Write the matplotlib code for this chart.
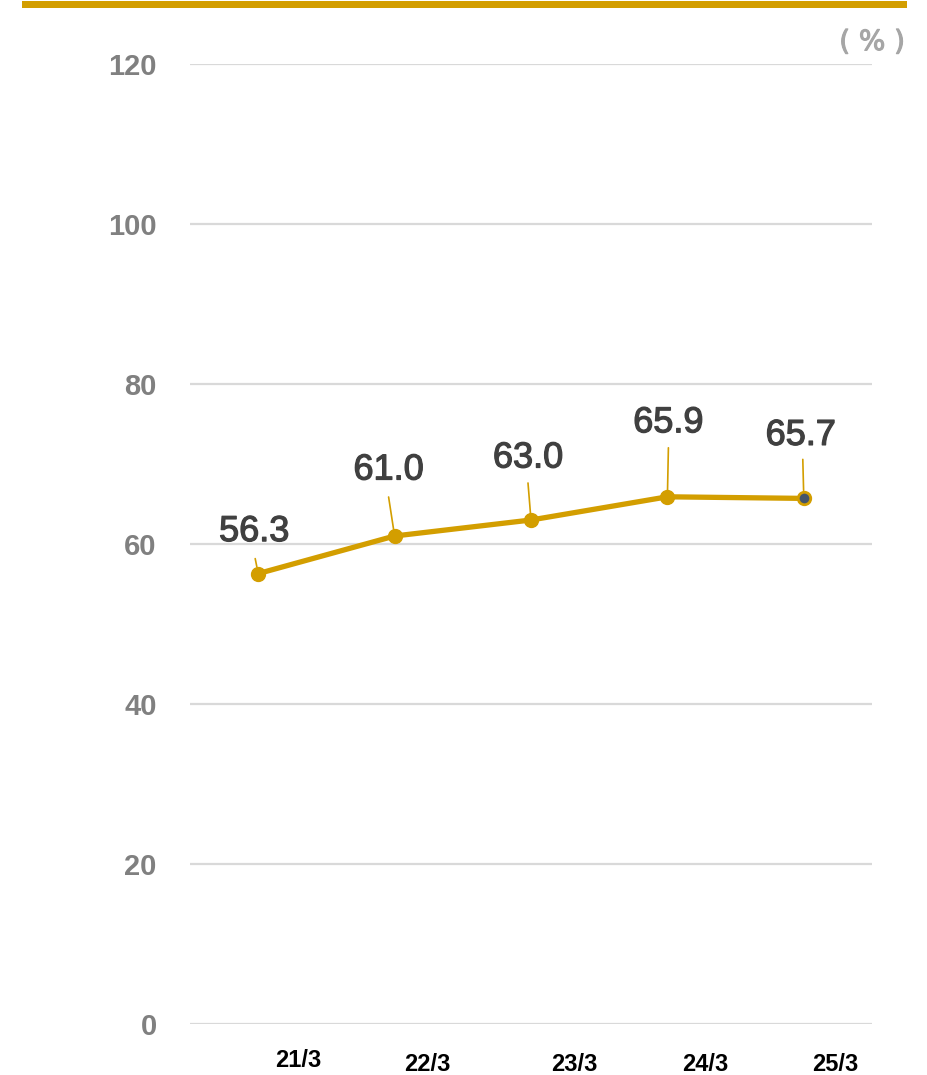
import numpy as np
import matplotlib
matplotlib.use("Agg")
import matplotlib.pyplot as plt
import matplotlib.patheffects as pe
from matplotlib.patches import Rectangle

# data
periods = ["21/3", "22/3", "23/3", "24/3", "25/3"]
values = [56.3, 61.0, 63.0, 65.9, 65.7]
y_ticks = [0, 20, 40, 60, 80, 100, 120]

gold = "#D39E00"
grid_c = "#D9D9D9"

fig = plt.figure(figsize=(9.28, 10.75), dpi=100)
ax = fig.add_axes([190/928, 1 - 1024/1075, 682/928, 960/1075])

x = np.arange(len(values))
ax.plot(x, values, color=gold, lw=3.8, solid_capstyle="round", zorder=3)
ax.plot(x[:-1], values[:-1], "o", ms=10, color=gold, zorder=4)
ax.plot(x[-1], values[-1], "o", ms=9, mfc="#44546A", mec=gold, mew=2, zorder=4)

# labels with leader lines (offsets in pixels: label centre, leader top, leader bottom)
lab_off = [(-4, 42), (-6, 66), (-3, 62), (1, 74), (-3, 63)]
lead_top = [(-3, 15), (-6, 39), (-3, 37), (1, 49), (-1, 39)]
lead_bot = [(-1, 7), (-1, 3), (-1, 5), (1, 5), (0, 8)]
thick = [pe.withStroke(linewidth=0.9, foreground="#404040")]
for i, v in enumerate(values):
    ax.annotate(f"{v:.1f}", (x[i], v), xytext=(lab_off[i][0]*0.72, lab_off[i][1]*0.72),
                textcoords="offset points", ha="center", va="center",
                fontsize=26, color="#404040", path_effects=thick,
                family=["Liberation Sans", "DejaVu Sans"], zorder=5)
    ax.annotate("", (x[i], v), xytext=(lead_top[i][0]*0.72, lead_top[i][1]*0.72),
                textcoords="offset points",
                arrowprops=dict(arrowstyle="-", color=gold, lw=1.2,
                                shrinkA=0, shrinkB=lead_bot[i][1]*0.72))

ax.set_xlim(-0.5, 4.5)
ax.set_ylim(0, 120)
ax.set_yticks(y_ticks)
ax.set_yticklabels([str(t) for t in y_ticks], fontsize=21, fontweight="bold",
                   color="#808080", family=["Liberation Sans", "DejaVu Sans"])
ax.tick_params(axis="y", length=0, pad=24)
ax.set_xticks([])
ax.grid(axis="y", color=grid_c, lw=1.6)
ax.set_axisbelow(True)
for s in ax.spines.values():
    s.set_visible(False)

# period labels sit a bit right of the points
xl_shift = [0.29, 0.24, 0.32, 0.28, 0.23]
xl_y = [-0.038, -0.042, -0.042, -0.042, -0.042]
for i, p in enumerate(periods):
    ax.text(x[i] + xl_shift[i], xl_y[i], p, transform=ax.get_xaxis_transform(),
            ha="center", va="center", fontsize=17, fontweight="bold", color="black",
            family=["Liberation Sans Narrow", "Liberation Sans", "DejaVu Sans"])

fig.text(872/928, 1 - 42/1075, "( % )", ha="center", va="center", fontsize=20,
         color="#A6A6A6", path_effects=[pe.withStroke(linewidth=0.8, foreground="#A6A6A6")],
         family=["Liberation Sans Narrow", "DejaVu Sans"])

# gold band across the top
fig.add_artist(Rectangle((22/928, 1 - 8/1075), 885/928, 7/1075,
                         transform=fig.transFigure, color=gold, lw=0))

fig.savefig("out.png", dpi=100)
